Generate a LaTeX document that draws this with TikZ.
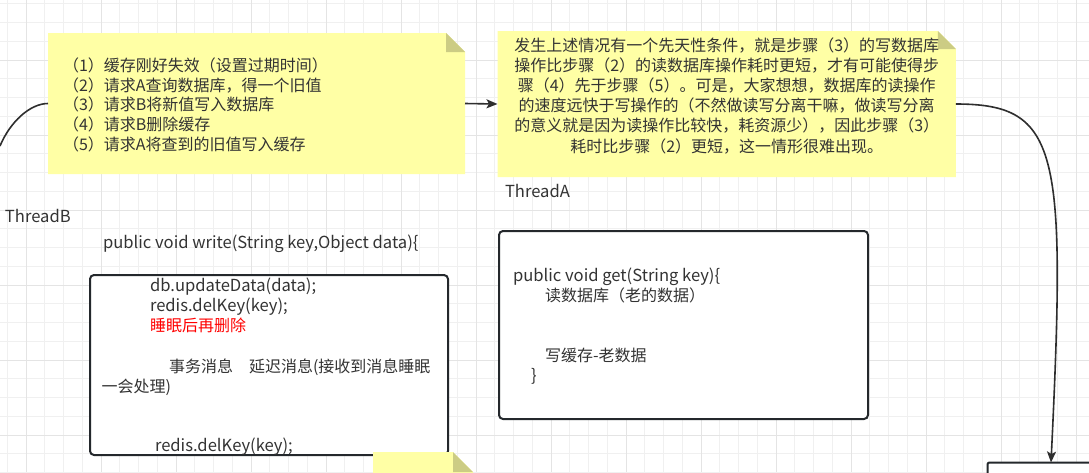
\documentclass[tikz,border=0pt]{standalone}
\usepackage{fontspec}
\newfontfamily\cjk{Noto Sans CJK SC}
\usetikzlibrary{arrows.meta}
\definecolor{notefill}{HTML}{FFFFA5}
\definecolor{foldfill}{HTML}{CCCC84}
\definecolor{txtgray}{HTML}{333333}
\definecolor{boxline}{HTML}{24282C}
\definecolor{edgeline}{HTML}{2E2E2E}
\definecolor{gridminor}{HTML}{F0F0F0}
\definecolor{gridmajor}{HTML}{E4E4E4}
\definecolor{redtxt}{HTML}{FF0000}
\tikzset{
  txt/.style={font=\cjk\fontsize{16}{20}\selectfont, text=txtgray, inner sep=0pt, outer sep=0pt},
  lt/.style={txt, anchor=base west},
  ltl/.style={lt, font=\cjk\fontsize{16.6}{20}\selectfont},
  ct/.style={txt, anchor=base},
  frame/.style={inner sep=0pt, outer sep=0pt, anchor=north west},
  codebox/.style={frame, draw=boxline, line width=2pt, rounded corners=4pt, fill=white},
  edge/.style={draw=edgeline, line width=1.6pt},
  tip/.style={-{Stealth[length=11pt,width=9pt,inset=2.5pt]}},
}
\newcommand\drawnote[2]{%
  \fill[notefill] (#1.north west) -- ([xshift=-#2pt]#1.north east) -- ([yshift=-#2pt]#1.north east) -- (#1.south east) -- (#1.south west) -- cycle;
  \fill[foldfill] ([xshift=-#2pt]#1.north east) -- ([xshift=-#2pt,yshift=-#2pt]#1.north east) -- ([yshift=-#2pt]#1.north east) -- cycle;}
\begin{document}
\begin{tikzpicture}[x=1pt,y=-1pt]
\useasboundingbox (0,0) rectangle (1089,472);
\clip (0,0) rectangle (1089,472);
\fill[white] (0,0) rectangle (1089,472);
% grid
\foreach \i in {0,...,58} \draw[gridminor, line width=1pt] ({7.25+18.75*\i},0) -- ++(0,472);
\foreach \j in {0,...,25} \draw[gridminor, line width=1pt] (0,{3.75+18.75*\j}) -- ++(1089,0);
\foreach \i in {0,...,14} \draw[gridmajor, line width=1pt] ({26+75*\i},0) -- ++(0,472);
\foreach \j in {0,...,6} \draw[gridmajor, line width=1pt] (0,{-15+75*\j}) -- ++(1089,0);

% notes
\node[frame, minimum width=417pt, minimum height=141pt] (n1) at (48,33) {};
\drawnote{n1}{19}
\node[frame, minimum width=458.3pt, minimum height=146pt] (n2) at (497.5,31) {};
\drawnote{n2}{18}

% code boxes
\node[codebox, minimum width=358pt, minimum height=180pt] (bb) at (90,275) {};
\node[codebox, minimum width=369pt, minimum height=188pt] (ba) at (499,231) {};
\node[frame, draw=boxline, line width=2pt, rounded corners=2pt, fill=white, minimum width=150pt, minimum height=40pt] (bx) at (987.5,462.5) {};

% bottom note (over box B)
\node[frame, minimum width=100pt, minimum height=40pt] (n3) at (373,452) {};
\drawnote{n3}{20}

% connectors
\coordinate (lb) at (0,146);
\draw[edge] (n1.west) .. controls (30,103.5) and (10,122) .. (lb);
\draw[edge,tip] (n1.east) -- (n2.west);
\draw[edge,tip] (n2.east) .. controls (1060,104) and (1066,150) .. ([xshift=63.5pt]bx.north west);

% note 1 text
\node[lt] (t11) at (63,71.5)  {（1）缓存刚好失效（设置过期时间）};
\node[lt] (t12) at (63,91.2)  {（2）请求A查询数据库，得一个旧值};
\node[lt] (t13) at (63,110.9) {（3）请求B将新值写入数据库};
\node[lt] (t14) at (63,130.6) {（4）请求B删除缓存};
\node[lt] (t15) at (63,150.3) {（5）请求A将查到的旧值写入缓存};

% note 2 text
\node[ct] (t21) at (726.7,51)    {发生上述情况有一个先天性条件，就是步骤（3）的写数据库};
\node[ct] (t22) at (726.7,71.2)  {操作比步骤（2）的读数据库操作耗时更短，才有可能使得步};
\node[ct] (t23) at (726.7,91.4)  {骤（4）先于步骤（5）。可是，大家想想，数据库的读操作};
\node[ct] (t24) at (726.7,111.6) {的速度远快于写操作的（不然做读写分离干嘛，做读写分离};
\node[ct] (t25) at (726.7,131.8) {的意义就是因为读操作比较快，耗资源少），因此步骤（3）};
\node[ct] (t26) at (726.7,152)   {耗时比步骤（2）更短，这一情形很难出现。};

% labels
\node[ltl] (thb) at (5,222.3) {ThreadB};
\node[ltl] (tha) at (505,197.5) {ThreadA};
\node[ltl] (wsig) at (103,248.6) {public void write(String key,Object data)\{};

% box B text
\node[ltl] (b1) at (150,291) {db.updateData(data);};
\node[ltl] (b2) at (150,311) {redis.delKey(key);};
\node[lt, text=redtxt] (b3) at (150,331) {睡眠后再删除};
\node[lt] (b4) at (169,372) {事务消息　延迟消息(接收到消息睡眠};
\node[lt] (b5) at (101.5,392) {一会处理)};
\node[ltl] (b6) at (155,451) {redis.delKey(key);};

% box A text
\node[ltl] (a1) at (513,281) {public void get(String key)\{};
\node[lt] (a2) at (545,301) {读数据库（老的数据）};
\node[lt] (a3) at (545,361) {写缓存-老数据};
\node[ltl] (a4) at (531,381) {\}};
\end{tikzpicture}
\end{document}
